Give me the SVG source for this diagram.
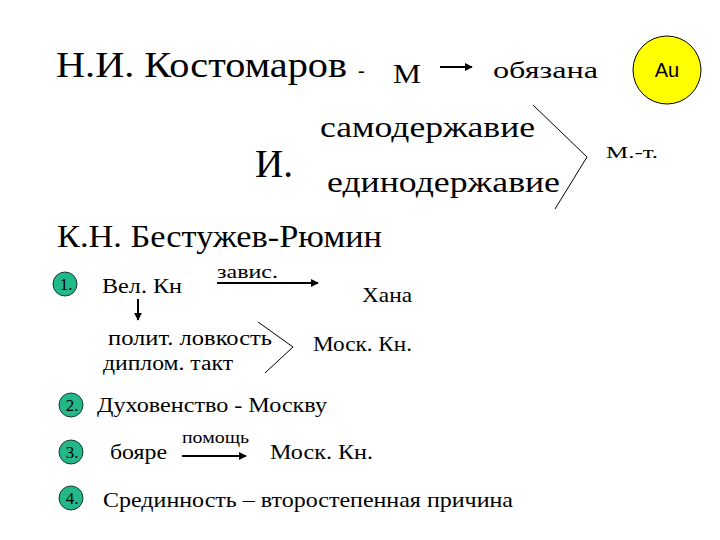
<svg xmlns="http://www.w3.org/2000/svg" width="720" height="540" viewBox="0 0 720 540">
<defs>
<style>
text{font-family:"Liberation Serif","Times New Roman",serif;fill:#000}
.l{stroke:#000;stroke-width:1;fill:none}
.a{stroke:#000;stroke-width:2;fill:none}
.bul{fill:#22b88a;stroke:#1a3a30;stroke-width:1}
.bt{font-size:17px;text-anchor:middle}
</style>
<marker id="ah" viewBox="0 0 10 10" refX="9" refY="5" markerWidth="4" markerHeight="4" orient="auto">
<path d="M0,0 L10,5 L0,10 z" fill="#000"/>
</marker>
</defs>
<rect width="720" height="540" fill="#fff"/>

<g id="kostomarov"><text x="56" y="77" font-size="35" textLength="291" lengthAdjust="spacingAndGlyphs">Н.И. Костомаров</text></g>
<g id="dash"><text x="358" y="77" font-size="20">-</text></g>
<g id="m"><text x="393" y="83" font-size="28" textLength="28" lengthAdjust="spacingAndGlyphs">М</text></g>
<g id="obyazana"><text x="493" y="78" font-size="24" textLength="105" lengthAdjust="spacingAndGlyphs">обязана</text></g>
<g id="au">
<circle cx="667" cy="70" r="34" fill="#ffff00" stroke="#000" stroke-width="1"/>
<text x="667" y="77" font-size="20" text-anchor="middle" style="font-family:'Liberation Sans',Arial,sans-serif">Au</text>
</g>
<g id="i"><text x="255" y="177" font-size="40" textLength="38" lengthAdjust="spacingAndGlyphs">И.</text></g>
<g id="samoderzhavie"><text x="320" y="137" font-size="29" textLength="215" lengthAdjust="spacingAndGlyphs">самодержавие</text></g>
<g id="edinoderzhavie"><text x="327" y="192" font-size="29" textLength="233" lengthAdjust="spacingAndGlyphs">единодержавие</text></g>
<g id="mt"><text x="606" y="158" font-size="17" textLength="52" lengthAdjust="spacingAndGlyphs">М.-т.</text></g>
<g id="bestuzhev"><text x="57" y="247" font-size="31" textLength="325" lengthAdjust="spacingAndGlyphs">К.Н. Бестужев-Рюмин</text></g>

<g id="b1"><circle class="bul" cx="65" cy="284" r="12"/><text class="bt" x="66" y="290">1.</text></g>
<g id="velkn"><text x="102" y="293" font-size="21" textLength="80" lengthAdjust="spacingAndGlyphs">Вел. Кн</text></g>
<g id="zavis"><text x="217" y="278" font-size="19" textLength="61" lengthAdjust="spacingAndGlyphs">завис.</text></g>
<g id="hana"><text x="362" y="302" font-size="21" textLength="50" lengthAdjust="spacingAndGlyphs">Хана</text></g>
<g id="polit"><text x="108" y="345" font-size="20" textLength="164" lengthAdjust="spacingAndGlyphs">полит. ловкость</text><text x="103" y="370" font-size="20" textLength="130" lengthAdjust="spacingAndGlyphs">диплом. такт</text></g>
<g id="moskkn1"><text x="313" y="351" font-size="21" textLength="99" lengthAdjust="spacingAndGlyphs">Моск. Кн.</text></g>

<g id="b2"><circle class="bul" cx="71" cy="405" r="12"/><text class="bt" x="72" y="411">2.</text></g>
<g id="duh"><text x="97" y="412" font-size="21" textLength="230" lengthAdjust="spacingAndGlyphs">Духовенство - Москву</text></g>

<g id="b3"><circle class="bul" cx="71" cy="452" r="12"/><text class="bt" x="72" y="458">3.</text></g>
<g id="boyare"><text x="110" y="459" font-size="21" textLength="57" lengthAdjust="spacingAndGlyphs">бояре</text></g>
<g id="pomosch"><text x="182" y="443" font-size="16" textLength="67" lengthAdjust="spacingAndGlyphs">помощь</text></g>
<g id="moskkn2"><text x="270" y="459" font-size="21" textLength="103" lengthAdjust="spacingAndGlyphs">Моск. Кн.</text></g>

<g id="b4"><circle class="bul" cx="71" cy="498" r="12"/><text class="bt" x="72" y="504">4.</text></g>
<g id="sred"><text x="103" y="507" font-size="21" textLength="410" lengthAdjust="spacingAndGlyphs">Срединность – второстепенная причина</text></g>

<g id="connectors">
<line class="a" x1="440" y1="67" x2="472" y2="67" marker-end="url(#ah)"/>
<polyline class="l" points="533,105 587,157 555,209"/>
<line class="a" x1="138" y1="299" x2="138" y2="320" marker-end="url(#ah)"/>
<line class="a" x1="217" y1="283" x2="318" y2="283" marker-end="url(#ah)"/>
<polyline class="l" points="258,322 293,347 265,373"/>
<line class="a" x1="182" y1="456" x2="246" y2="456" marker-end="url(#ah)"/>
</g>
</svg>
